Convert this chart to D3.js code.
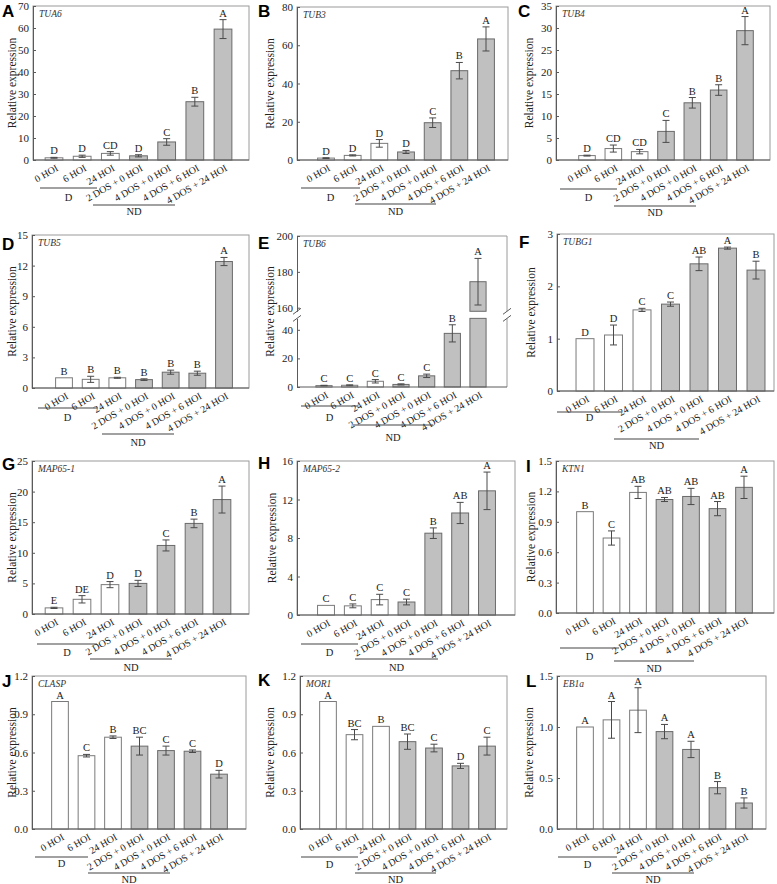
<!DOCTYPE html>
<html><head><meta charset="utf-8">
<script src="https://cdn.jsdelivr.net/npm/d3@7"></script>
<style>body{margin:0;background:#fff;} svg{display:block;}</style>
</head><body>
<svg id="chart" width="777" height="884"></svg>
<script>
// ---------- DATA ----------
const categories = ["0 HOI", "6 HOI", "24 HOI", "2 DOS + 0 HOI", "4 DOS + 0 HOI", "4 DOS + 6 HOI", "4 DOS + 24 HOI"];
const treatment  = ["D", "D", "D", "ND", "ND", "ND", "ND"];
const panelLetters = ["A","B","C","D","E","F","G","H","I","J","K","L"];
const geneNames = ["TUA6","TUB3","TUB4","TUB5","TUB6","TUBG1","MAP65-1","MAP65-2","KTN1","CLASP","MOR1","EB1a"];

const tua6Values = [1.0, 1.7, 3.0, 1.9, 8.2, 26.5, 59.5];
const tua6Errors = [0.2, 0.5, 0.8, 0.5, 1.5, 2.0, 4.3];
const tua6Letters = ["D","D","CD","D","C","B","A"];
const tua6Ticks = [0,10,20,30,40,50,60,70];

const tub3Values = [1.0, 2.4, 8.7, 4.2, 19.5, 46.7, 63.3];
const tub3Errors = [0.2, 0.3, 2.0, 0.8, 2.5, 4.3, 6.3];
const tub3Letters = ["D","D","D","D","C","B","A"];
const tub3Ticks = [0,20,40,60,80];

const tub4Values = [1.0, 2.6, 1.9, 6.5, 13.0, 15.9, 29.4];
const tub4Errors = [0.1, 0.8, 0.5, 2.5, 1.2, 1.2, 3.2];
const tub4Letters = ["D","CD","CD","C","B","B","A"];
const tub4Ticks = [0,5,10,15,20,25,30,35];

const tub5Values = [1.0, 0.85, 1.0, 0.82, 1.55, 1.45, 12.4];
const tub5Errors = [0, 0.3, 0.05, 0.08, 0.2, 0.2, 0.4];
const tub5Letters = ["B","B","B","B","B","B","A"];
const tub5Ticks = [0,3,6,9,12,15];

const tub6Values = [1.0, 1.2, 4.0, 1.8, 7.8, 37.5, 174.5];
const tub6Errors = [0.2, 0.3, 1.2, 0.4, 1.2, 6.0, 13.0];
const tub6Letters = ["C","C","C","C","C","B","A"];
const tub6Ticks = [0,20,40,160,180,200];

const tubg1Values = [1.0, 1.07, 1.55, 1.66, 2.43, 2.73, 2.31];
const tubg1Errors = [0, 0.19, 0.03, 0.04, 0.13, 0.02, 0.17];
const tubg1Letters = ["D","D","C","C","AB","A","B"];
const tubg1Ticks = [0,1,2,3];

const map651Values = [1.0, 2.4, 4.8, 5.0, 11.2, 14.8, 18.7];
const map651Errors = [0.1, 0.6, 0.5, 0.5, 0.9, 0.7, 2.2];
const map651Letters = ["E","DE","D","D","C","B","A"];
const map651Ticks = [0,5,10,15,20,25];

const map652Values = [1.0, 0.95, 1.6, 1.35, 8.5, 10.6, 12.9];
const map652Errors = [0, 0.2, 0.55, 0.3, 0.55, 1.1, 1.95];
const map652Letters = ["C","C","C","C","B","AB","A"];
const map652Ticks = [0,4,8,12,16];

const ktn1Values = [1.0, 0.74, 1.19, 1.12, 1.15, 1.03, 1.24];
const ktn1Errors = [0, 0.07, 0.06, 0.02, 0.08, 0.07, 0.11];
const ktn1Letters = ["B","C","AB","AB","AB","AB","A"];
const ktn1Ticks = [0,0.3,0.6,0.9,1.2,1.5];

const claspValues = [1.0, 0.575, 0.72, 0.65, 0.615, 0.61, 0.43];
const claspErrors = [0, 0.01, 0.01, 0.07, 0.035, 0.01, 0.03];
const claspLetters = ["A","C","B","BC","C","C","D"];
const claspTicks = [0,0.3,0.6,0.9,1.2];

const mor1Values = [1.0, 0.74, 0.805, 0.685, 0.635, 0.495, 0.65];
const mor1Errors = [0, 0.04, 0, 0.06, 0.03, 0.02, 0.07];
const mor1Letters = ["A","BC","B","BC","C","D","C"];
const mor1Ticks = [0,0.3,0.6,0.9,1.2];

const eb1aValues = [1.0, 1.07, 1.165, 0.955, 0.78, 0.405, 0.255];
const eb1aErrors = [0, 0.18, 0.22, 0.07, 0.08, 0.06, 0.05];
const eb1aLetters = ["A","A","A","A","A","B","B"];
const eb1aTicks = [0,0.5,1.0,1.5];

// ---------- LAYOUT (pixel geometry of each panel) ----------
const layout = [
  {L:33, R:249, T:6,   B:160, x0:54,  x6:223, yl:13,  dl:[40,97,188],   dt:201, ndl:[93,175,205],  ndt:215, lt:[2,17]},
  {L:297,R:508, T:7,   B:160, x0:326, x6:486, yl:271, dl:[301,360,188], dt:201, ndl:[355,436,204], ndt:215, lt:[258,17]},
  {L:556,R:770, T:6,   B:160, x0:587, x6:745, yl:530, dl:[560,617,189], dt:201, ndl:[614,696,206], ndt:216, lt:[518,17]},
  {L:32, R:249, T:235, B:388, x0:64,  x6:224, yl:13,  dl:[38,97,408],   dt:421, ndl:[102,174,434], ndt:446, lt:[2,250]},
  {L:297,R:507, T:236, B:387, x0:324, x6:478, yl:271, dl:[301,358,406], dt:421, ndl:[353,433,425], ndt:441, lt:[258,249], broken:true},
  {L:557,R:774, T:234, B:391, x0:585, x6:756, yl:532, dl:[557,622,412], dt:421, ndl:[614,699,439], ndt:449, lt:[519,248]},
  {L:32, R:249, T:461, B:614, x0:54,  x6:222, yl:13,  dl:[37,97,644],   dt:656, ndl:[90,172,659],  ndt:671, lt:[2,470]},
  {L:297,R:515, T:461, B:615, x0:326, x6:487, yl:273, dl:[301,358,644], dt:656, ndl:[355,438,659], ndt:671, lt:[258,469]},
  {L:556,R:774, T:461, B:613, x0:585, x6:744, yl:532, dl:[560,619,648], dt:660, ndl:[614,694,661], ndt:672, lt:[526,472]},
  {L:32, R:246, T:676, B:829, x0:60,  x6:219, yl:13,  dl:[35,88,857],   dt:867, ndl:[88,170,873],  ndt:883, lt:[2,687]},
  {L:300,R:507, T:676, B:829, x0:328, x6:487, yl:271, dl:[301,358,857], dt:868, ndl:[355,436,873], ndt:883, lt:[258,686]},
  {L:557,R:766, T:676, B:829, x0:585, x6:744, yl:530, dl:[558,617,857], dt:868, ndl:[612,694,873], ndt:883, lt:[526,687]}
];

const valueSets = [tua6Values,tub3Values,tub4Values,tub5Values,tub6Values,tubg1Values,map651Values,map652Values,ktn1Values,claspValues,mor1Values,eb1aValues];
const errorSets = [tua6Errors,tub3Errors,tub4Errors,tub5Errors,tub6Errors,tubg1Errors,map651Errors,map652Errors,ktn1Errors,claspErrors,mor1Errors,eb1aErrors];
const letterSets = [tua6Letters,tub3Letters,tub4Letters,tub5Letters,tub6Letters,tubg1Letters,map651Letters,map652Letters,ktn1Letters,claspLetters,mor1Letters,eb1aLetters];
const tickSets = [tua6Ticks,tub3Ticks,tub4Ticks,tub5Ticks,tub6Ticks,tubg1Ticks,map651Ticks,map652Ticks,ktn1Ticks,claspTicks,mor1Ticks,eb1aTicks];

// ---------- STYLE ----------
const SERIF = "Liberation Serif";
const SANS = "Liberation Sans";
const fillFor = {D:"#ffffff", ND:"#c0c0c0"};
const strokeFor = {D:"#7a7a7a", ND:"#6a6a6a"};
const axisColor = "#5a5a5a", frameColor = "#9a9a9a", errColor = "#4a4a4a";

const svg = d3.select("#chart");

geneNames.forEach((gene, i) => {
  const lay = layout[i];
  const values = valueSets[i], errors = errorSets[i], letters = letterSets[i], ticks = tickSets[i];
  const g = svg.append("g");
  const x = d3.scalePoint().domain(categories).range([lay.x0, lay.x6]);
  const bw = x.step() * 0.63;
  const decimals = ticks.some(t => t % 1 !== 0) || i >= 8;
  const fmt = decimals ? d3.format(".1f") : d3.format("d");

  let yFn, lowerMax, upperMin, yLow, yUp;
  if (lay.broken) {
    lowerMax = 48; upperMin = 158;
    yLow = d3.scaleLinear().domain([0, 40]).range([lay.B, lay.B - 57.2]);
    yUp  = d3.scaleLinear().domain([160, 200]).range([lay.T + 71.7, lay.T]);
    yFn = v => v <= lowerMax ? yLow(v) : yUp(v);
  } else {
    const y = d3.scaleLinear().domain([0, d3.max(ticks)]).range([lay.B, lay.T]);
    yFn = y;
    yLow = y;
  }

  // frame (top & right)
  if (lay.broken) {
    const gapTop = yUp(upperMin), gapBot = yLow(lowerMax);
    g.append("line").attr("x1", lay.L).attr("x2", lay.R).attr("y1", lay.T).attr("y2", lay.T).attr("stroke", frameColor);
    g.append("line").attr("x1", lay.R).attr("x2", lay.R).attr("y1", lay.T).attr("y2", gapTop).attr("stroke", frameColor);
    g.append("line").attr("x1", lay.R).attr("x2", lay.R).attr("y1", gapBot).attr("y2", lay.B).attr("stroke", frameColor);
    [lay.L, lay.R].forEach(xx => {
      [gapTop, gapBot].forEach(yy => {
        g.append("line").attr("x1", xx - 4).attr("x2", xx + 4).attr("y1", yy + 3).attr("y2", yy - 3)
          .attr("stroke", axisColor).attr("stroke-width", 1);
      });
    });
  } else {
    g.append("rect").attr("x", lay.L).attr("y", lay.T).attr("width", lay.R - lay.L).attr("height", lay.B - lay.T)
      .attr("fill", "none").attr("stroke", frameColor).attr("stroke-width", 1);
  }

  // bars
  values.forEach((v, k) => {
    const cx = x(categories[k]);
    const grp = treatment[k];
    if (lay.broken && v > lowerMax) {
      g.append("rect").attr("x", cx - bw/2).attr("y", yLow(lowerMax)).attr("width", bw).attr("height", lay.B - yLow(lowerMax))
        .attr("fill", fillFor[grp]).attr("stroke", strokeFor[grp]);
      g.append("rect").attr("x", cx - bw/2).attr("y", yUp(v)).attr("width", bw).attr("height", yUp(upperMin) - yUp(v))
        .attr("fill", fillFor[grp]).attr("stroke", strokeFor[grp]);
    } else {
      g.append("rect").attr("x", cx - bw/2).attr("y", yFn(v)).attr("width", bw).attr("height", lay.B - yFn(v))
        .attr("fill", fillFor[grp]).attr("stroke", strokeFor[grp]);
    }
    const e = errors[k];
    if (e > 0) {
      const yt = yFn(v + e), yb = yFn(v - e);
      g.append("line").attr("x1", cx).attr("x2", cx).attr("y1", yt).attr("y2", yb).attr("stroke", errColor);
      [yt, yb].forEach(yy => g.append("line").attr("x1", cx - 3.5).attr("x2", cx + 3.5).attr("y1", yy).attr("y2", yy).attr("stroke", errColor));
    }
    g.append("text").attr("x", cx).attr("y", yFn(v + e) - 3).attr("text-anchor", "middle")
      .attr("font-family", SERIF).attr("font-size", 10.5).attr("fill", "#222").text(letters[k]);
    // x tick label
    g.append("text").attr("transform", `translate(${cx + 5},${lay.B + 10}) rotate(-30)`)
      .attr("text-anchor", "end").attr("font-family", SERIF).attr("font-size", 10).attr("fill", "#222")
      .text(categories[k]);
  });

  // y axis
  const styleAxis = sel => {
    sel.selectAll("path.domain").attr("stroke", axisColor);
    sel.selectAll(".tick line").attr("stroke", axisColor);
    sel.selectAll(".tick text").attr("font-family", SERIF).attr("font-size", 11).attr("fill", "#222");
  };
  if (lay.broken) {
    const lowTicks = ticks.filter(t => t <= lowerMax), upTicks = ticks.filter(t => t >= upperMin);
    const yl2 = yLow.copy().domain([0, lowerMax]).range([lay.B, yLow(lowerMax)]);
    const yu2 = yUp.copy().domain([upperMin, 200]).range([yUp(upperMin), lay.T]);
    g.append("g").attr("transform", `translate(${lay.L},0)`)
      .call(d3.axisLeft(yl2).tickValues(lowTicks).tickSize(-3).tickSizeOuter(0).tickPadding(4).tickFormat(fmt)).call(styleAxis);
    g.append("g").attr("transform", `translate(${lay.L},0)`)
      .call(d3.axisLeft(yu2).tickValues(upTicks).tickSize(-3).tickSizeOuter(0).tickPadding(4).tickFormat(fmt)).call(styleAxis);
  } else {
    g.append("g").attr("transform", `translate(${lay.L},0)`)
      .call(d3.axisLeft(yFn).tickValues(ticks).tickSize(-3).tickSizeOuter(0).tickPadding(4).tickFormat(fmt)).call(styleAxis);
  }
  // bottom axis line
  g.append("line").attr("x1", lay.L).attr("x2", lay.R).attr("y1", lay.B).attr("y2", lay.B).attr("stroke", axisColor);

  // y label
  g.append("text").attr("transform", `translate(${lay.yl},${(lay.T + lay.B) / 2}) rotate(-90)`)
    .attr("text-anchor", "middle").attr("dominant-baseline", "middle")
    .attr("font-family", SERIF).attr("font-size", 11.5).attr("fill", "#222").text("Relative expression");

  // gene name
  g.append("text").attr("x", lay.L + 6).attr("y", lay.T + 11).attr("font-family", SERIF).attr("font-style", "italic")
    .attr("font-size", 9.5).attr("fill", "#333").text(gene);

  // panel letter
  g.append("text").attr("x", lay.lt[0]).attr("y", lay.lt[1]).attr("font-family", SANS).attr("font-weight", "bold")
    .attr("font-size", 17).attr("fill", "#000").text(panelLetters[i]);

  // group lines and labels
  g.append("line").attr("x1", lay.dl[0]).attr("x2", lay.dl[1]).attr("y1", lay.dl[2]).attr("y2", lay.dl[2])
    .attr("stroke", "#444").attr("stroke-width", 1.2);
  g.append("text").attr("x", (lay.dl[0] + lay.dl[1]) / 2).attr("y", lay.dt).attr("text-anchor", "middle")
    .attr("font-family", SERIF).attr("font-size", 10.5).attr("fill", "#222").text("D");
  g.append("line").attr("x1", lay.ndl[0]).attr("x2", lay.ndl[1]).attr("y1", lay.ndl[2]).attr("y2", lay.ndl[2])
    .attr("stroke", "#444").attr("stroke-width", 1.2);
  g.append("text").attr("x", (lay.ndl[0] + lay.ndl[1]) / 2).attr("y", lay.ndt).attr("text-anchor", "middle")
    .attr("font-family", SERIF).attr("font-size", 10.5).attr("fill", "#222").text("ND");
});
</script>
</body></html>
